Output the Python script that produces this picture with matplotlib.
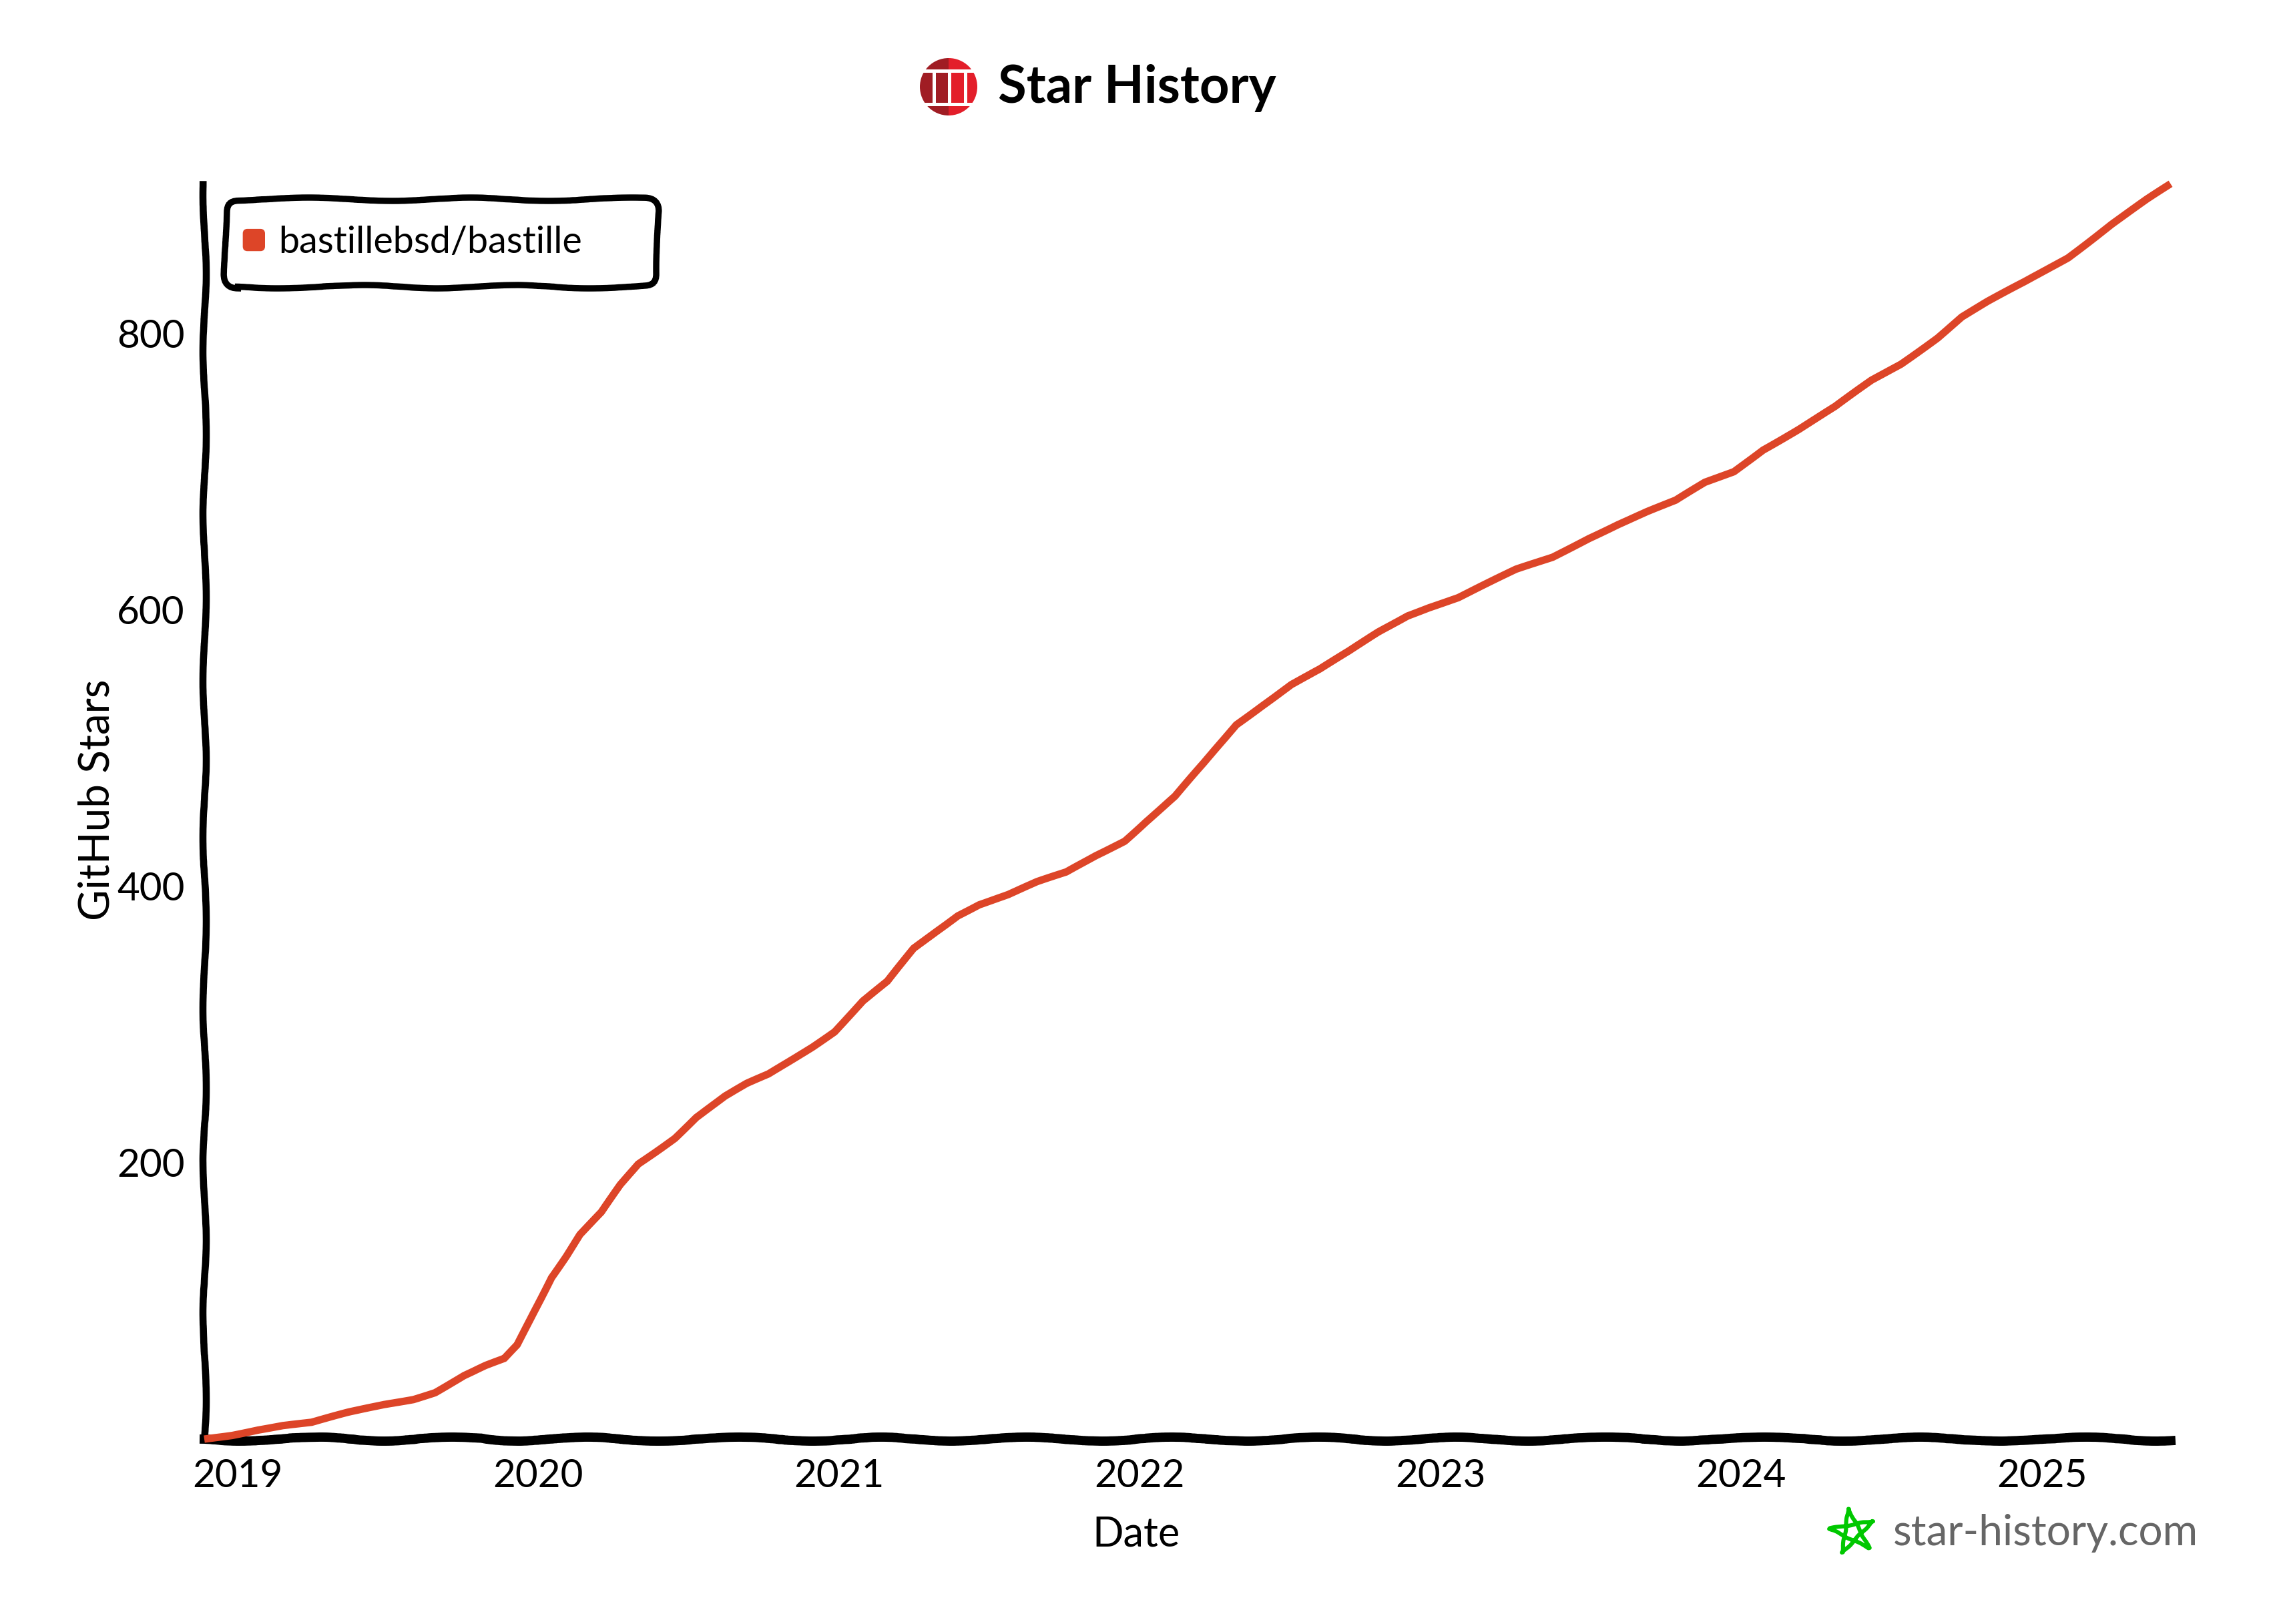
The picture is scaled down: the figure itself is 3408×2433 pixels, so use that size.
import matplotlib
matplotlib.use("Agg")
import matplotlib.pyplot as plt
import numpy as np
from matplotlib.legend_handler import HandlerPatch
from matplotlib.patches import Ellipse, FancyBboxPatch, Patch, Polygon, Rectangle

# Stars over time (decimal years)
years = [2018.889, 2018.981, 2019.068, 2019.150, 2019.246, 2019.367, 2019.487, 2019.584,
         2019.656, 2019.753, 2019.825, 2019.888, 2019.931, 2019.985, 2020.042, 2020.091,
         2020.139, 2020.211, 2020.274, 2020.332, 2020.390, 2020.453, 2020.525, 2020.622,
         2020.694, 2020.766, 2020.839, 2020.911, 2020.984, 2021.032, 2021.080, 2021.162,
         2021.249, 2021.321, 2021.394, 2021.466, 2021.563, 2021.659, 2021.756, 2021.852,
         2021.949, 2022.021, 2022.118, 2022.214, 2022.320, 2022.407, 2022.504, 2022.600,
         2022.697, 2022.793, 2022.890, 2022.962, 2023.059, 2023.155, 2023.252, 2023.373,
         2023.493, 2023.590, 2023.687, 2023.783, 2023.880, 2023.976, 2024.072, 2024.193,
         2024.314, 2024.434, 2024.531, 2024.652, 2024.734, 2024.821, 2024.941, 2025.086,
         2025.231, 2025.351, 2025.429]
stars = [0, 3, 7, 10, 12, 19, 25, 29,
         34, 46, 53, 58, 68, 92, 117, 132,
         148, 164, 184, 199, 208, 218, 233, 248,
         257, 264, 274, 284, 295, 306, 317, 331,
         355, 367, 379, 387, 394, 403, 410, 422,
         433, 447, 465, 489, 517, 531, 546, 557,
         570, 584, 596, 602, 609, 619, 629, 638,
         652, 662, 671, 679, 692, 700, 716, 731,
         747, 766, 778, 797, 812, 823, 837, 855,
         879, 897, 908]
x_ticks = [2019, 2020, 2021, 2022, 2023, 2024, 2025]
y_ticks = [200, 400, 600, 800]
repo_name = "bastillebsd/bastille"

W, H = 3408, 2433
DPI = 200
RED = "#dd4528"
# axes box in pixels
AX_L, AX_R, AX_T, AX_B = 306, 3252, 276, 2156
AX_W, AX_H = AX_R - AX_L, AX_B - AX_T


def rounded_handle(legend, orig_handle, xdescent, ydescent, width, height, fontsize):
    # small rounded square, pushed left of the legend's padding
    return FancyBboxPatch((-xdescent - 4.3, -ydescent + (height - 11) / 2), 11, 11,
                          boxstyle="round,pad=0,rounding_size=2")


plt.rcParams["font.family"] = ["Lato", "DejaVu Sans"]

fig = plt.figure(figsize=(W / DPI, H / DPI), dpi=DPI, facecolor="white")
ax = fig.add_axes([AX_L / W, 1 - AX_B / H, AX_W / W, AX_H / H])

line, = ax.plot(years, stars, color=RED, linewidth=4, solid_capstyle="butt", clip_on=False,
                zorder=5)
line.set_sketch_params(1, 300, 2)

ax.set_xlim(years[0], years[-1])
ax.set_ylim(0, max(stars))
ax.set_xticks(x_ticks)
ax.set_yticks(y_ticks)
ax.tick_params(length=0, labelsize=21, pad=10.5)
ax.set_xlabel("Date", fontsize=22)
ax.set_ylabel("GitHub Stars", fontsize=23)
ax.xaxis.set_label_coords(0.474, -0.061)
ax.yaxis.set_label_coords(-0.0448, 0.5096)

ax.spines["top"].set_visible(False)
ax.spines["right"].set_visible(False)
ax.spines["left"].set_linewidth(3.8)
ax.spines["bottom"].set_linewidth(5)
ax.spines["left"].set_sketch_params(2.5, 300, 3)
ax.spines["bottom"].set_sketch_params(3, 300, 4)

handle = Patch(facecolor=RED, edgecolor=RED, linewidth=1)
legend = ax.legend([handle], [repo_name], fontsize=20, mode="expand", loc="upper left",
                   bbox_to_anchor=((337 - AX_L) / AX_W, 1 - (298 - AX_T) / AX_H,
                                   (985 - 337) / AX_W, 0),
                   borderaxespad=0, borderpad=0.72, handlelength=0.54, handletextpad=0.18,
                   fancybox=True, framealpha=1, edgecolor="black",
                   handler_map={Patch: HandlerPatch(patch_func=rounded_handle)})
frame = legend.get_frame()
frame.set_linewidth(3.4)
frame.set_boxstyle("round", pad=0, rounding_size=0.35)
frame.set_sketch_params(2.5, 300, 3)

# Overlay in pixel coordinates for logo, star and title
over = fig.add_axes([0, 0, 1, 1], facecolor="none")
over.set_xlim(0, W)
over.set_ylim(H, 0)
over.axis("off")

# Logo: two-tone barrel, white gaps cut the stripes
lx, ly, lr = 1421, 130, 43
dark, bright = "#a01d24", "#e31e2a"
left = Ellipse((lx, ly), 2 * lr, 2 * lr, color=dark, linewidth=0)
right = Ellipse((lx, ly), 2 * lr, 2 * lr, color=bright, linewidth=0)
over.add_patch(left)
over.add_patch(right)
left.set_clip_path(Rectangle((lx - lr, ly - lr), lr, 2 * lr, transform=over.transData))
right.set_clip_path(Rectangle((lx, ly - lr), lr, 2 * lr, transform=over.transData))
over.add_patch(Rectangle((lx - lr, ly - 26), 2 * lr, 5, color="white", linewidth=0))
over.add_patch(Rectangle((lx - lr, ly + 24), 2 * lr, 5, color="white", linewidth=0))
for gap in (-22, 1, 25):
    over.add_patch(Rectangle((lx + gap - 2.5, ly - 22), 5, 48, color="white", linewidth=0))

over.text(1495, 132, "Star History", fontsize=28, fontweight="bold", color="black",
          ha="left", va="center")

# Green pentagram
sx, sy, sr = 2775, 2295, 35
angles = np.deg2rad(-100 + 144 * np.arange(5))
star_pts = np.column_stack([sx + sr * np.cos(angles), sy + sr * np.sin(angles)])
star = Polygon(star_pts, closed=True, fill=False, edgecolor="#00c800", linewidth=2.2,
               joinstyle="round")
star.set_sketch_params(0.8, 40, 2)
over.add_patch(star)
over.text(2836, 2297, "star-history.com", fontsize=23, color="#666666", ha="left", va="center")

fig.savefig("out.png", dpi=DPI)
